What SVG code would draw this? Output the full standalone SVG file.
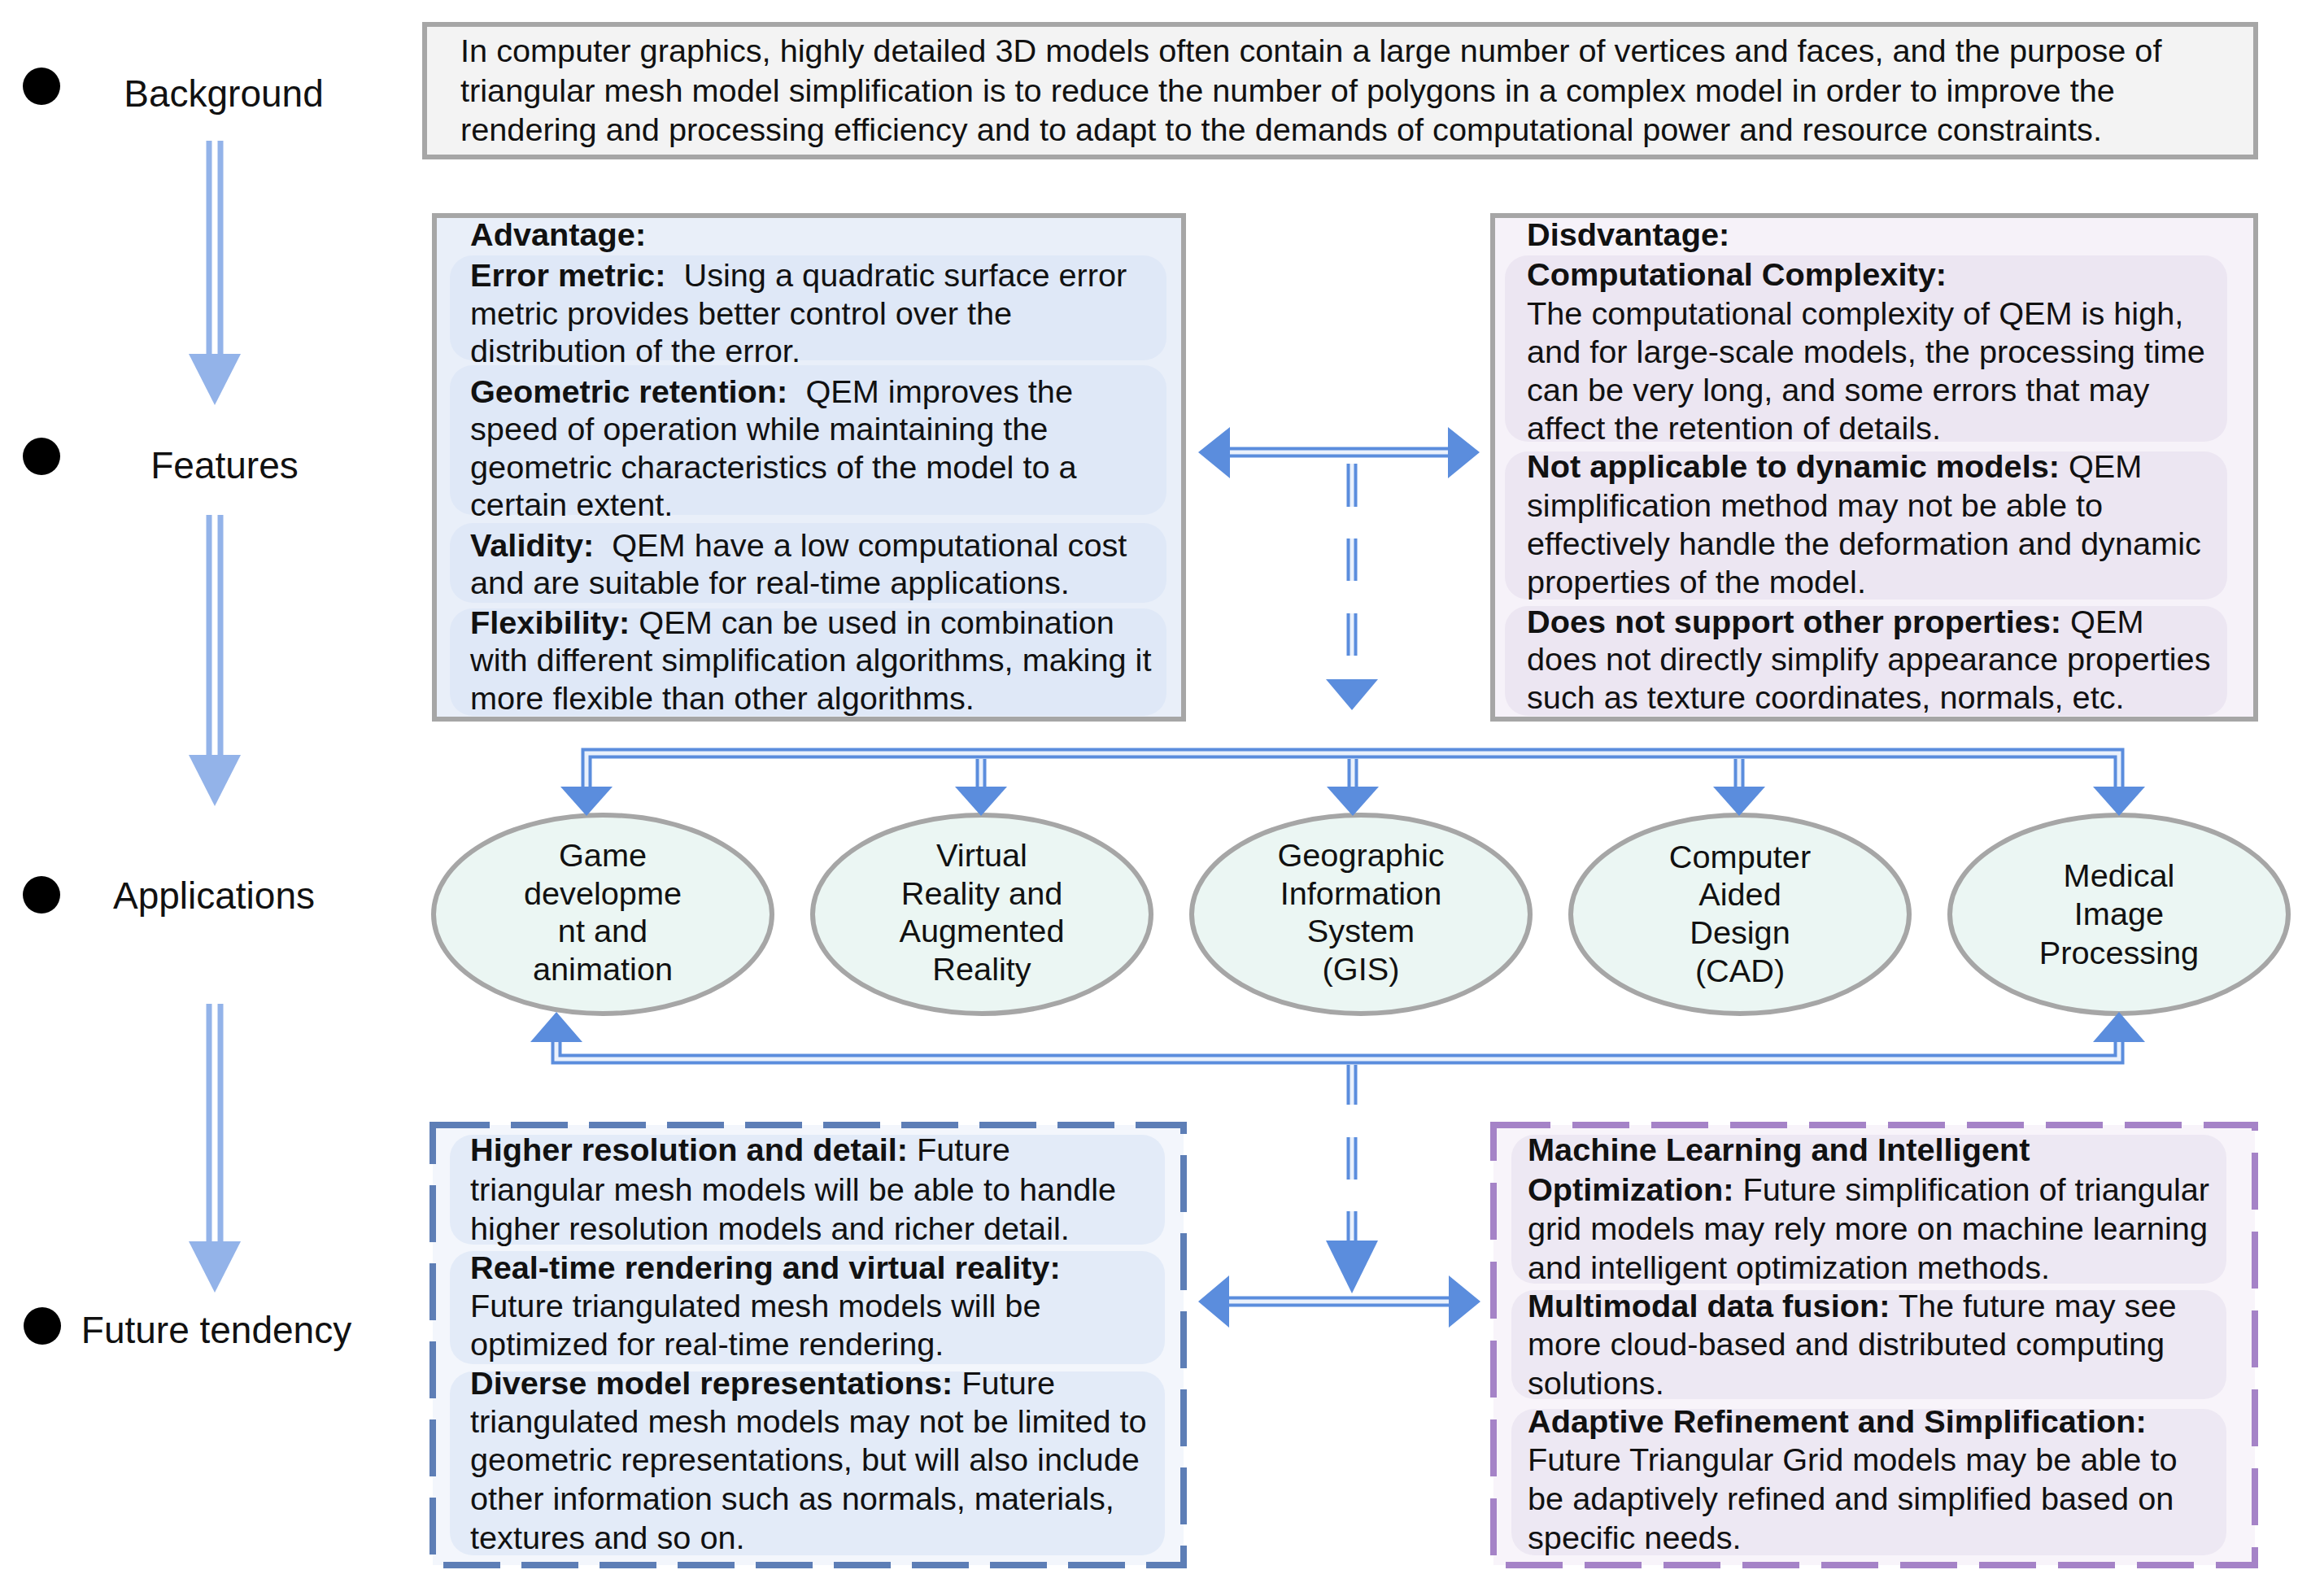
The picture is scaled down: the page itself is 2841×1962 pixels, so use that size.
<svg xmlns="http://www.w3.org/2000/svg" width="2841" height="1962" viewBox="0 0 2841 1962">
<style>
.t{font-family:"Liberation Sans",Arial,Helvetica,sans-serif;font-size:39.7px;fill:#111}
.b{font-weight:bold}
.lbl{font-family:"Liberation Sans",Arial,Helvetica,sans-serif;font-size:46px;fill:#111;text-anchor:middle}
.ec{text-anchor:middle}
.box{stroke:#a6a6a6;stroke-width:6}
.ell{fill:#ebf6f3;stroke:#a6a6a6;stroke-width:6}
.itA{fill:#dfe8f7}
.itD{fill:#ece6f2}
.itL{fill:#e3ebf8}
.itR{fill:#ede8f3}
.co{stroke:#5b8ddd;fill:none;stroke-width:13}
.ci{stroke:#eaf1fc;fill:none;stroke-width:5}
.ah{fill:#5b8ddd}
.to{stroke:#93b3e9;fill:none;stroke-width:21}
.ti{stroke:#ffffff;fill:none;stroke-width:7}
.th{fill:#93b3e9}
.dot{fill:#000}
</style>

<!-- Timeline -->
<g id="timeline">
  <circle class="dot" cx="51" cy="106" r="23"/>
  <circle class="dot" cx="51" cy="561" r="23"/>
  <circle class="dot" cx="51" cy="1100" r="23"/>
  <circle class="dot" cx="52" cy="1630" r="23"/>
  <path class="to" d="M264,173 V437 M264,633 V930 M264,1234 V1528"/>
  <path class="ti" d="M264,173 V437 M264,633 V930 M264,1234 V1528"/>
  <polygon class="th" points="232,435 296,435 264,498"/>
  <polygon class="th" points="232,928 296,928 264,991"/>
  <polygon class="th" points="232,1526 296,1526 264,1589"/>
</g>
<g id="label-background"><text class="lbl" x="275" y="131">Background</text></g>
<g id="label-features"><text class="lbl" x="276" y="588">Features</text></g>
<g id="label-applications"><text class="lbl" x="263" y="1117">Applications</text></g>
<g id="label-future"><text class="lbl" x="266" y="1651">Future tendency</text></g>

<!-- Background node -->
<g id="node-background">
  <rect class="box" x="522" y="30" width="2251" height="163" fill="#f3f3f3"/>
  <text class="t" x="566" y="76">In computer graphics, highly detailed 3D models often contain a large number of vertices and faces, and the purpose of</text>
  <text class="t" x="566" y="125">triangular mesh model simplification is to reduce the number of polygons in a complex model in order to improve the</text>
  <text class="t" x="566" y="173">rendering and processing efficiency and to adapt to the demands of computational power and resource constraints.</text>
</g>

<!-- Advantage node -->
<g id="node-advantage">
  <rect class="box" x="534" y="265" width="921" height="619" fill="#e9eff9"/>
  <rect class="itA" x="553" y="314" width="881" height="129" rx="28"/>
  <rect class="itA" x="553" y="449" width="881" height="184" rx="28"/>
  <rect class="itA" x="553" y="643" width="881" height="98" rx="28"/>
  <rect class="itA" x="553" y="748" width="881" height="132" rx="28"/>
  <text class="t b" x="578" y="302">Advantage:</text>
  <text class="t" x="578" y="352" xml:space="preserve"><tspan class="b">Error metric:</tspan>  Using a quadratic surface error</text>
  <text class="t" x="578" y="399">metric provides better control over the</text>
  <text class="t" x="578" y="445">distribution of the error.</text>
  <text class="t" x="578" y="495" xml:space="preserve"><tspan class="b">Geometric retention:</tspan>  QEM improves the</text>
  <text class="t" x="578" y="541">speed of operation while maintaining the</text>
  <text class="t" x="578" y="588">geometric characteristics of the model to a</text>
  <text class="t" x="578" y="634">certain extent.</text>
  <text class="t" x="578" y="684" xml:space="preserve"><tspan class="b">Validity:</tspan>  QEM have a low computational cost</text>
  <text class="t" x="578" y="730">and are suitable for real-time applications.</text>
  <text class="t" x="578" y="779" xml:space="preserve"><tspan class="b">Flexibility:</tspan> QEM can be used in combination</text>
  <text class="t" x="578" y="825">with different simplification algorithms, making it</text>
  <text class="t" x="578" y="872">more flexible than other algorithms.</text>
</g>

<!-- Disadvantage node -->
<g id="node-disadvantage">
  <rect class="box" x="1835" y="265" width="938" height="619" fill="#f6f2f9"/>
  <rect class="itD" x="1850" y="314" width="888" height="229" rx="28"/>
  <rect class="itD" x="1850" y="555" width="888" height="182" rx="28"/>
  <rect class="itD" x="1850" y="745" width="888" height="135" rx="28"/>
  <text class="t b" x="1877" y="302">Disdvantage:</text>
  <text class="t b" x="1877" y="351">Computational Complexity:</text>
  <text class="t" x="1877" y="399">The computational complexity of QEM is high,</text>
  <text class="t" x="1877" y="446">and for large-scale models, the processing time</text>
  <text class="t" x="1877" y="493">can be very long, and some errors that may</text>
  <text class="t" x="1877" y="540">affect the retention of details.</text>
  <text class="t" x="1877" y="587" xml:space="preserve"><tspan class="b">Not applicable to dynamic models:</tspan> QEM</text>
  <text class="t" x="1877" y="635">simplification method may not be able to</text>
  <text class="t" x="1877" y="682">effectively handle the deformation and dynamic</text>
  <text class="t" x="1877" y="729">properties of the model.</text>
  <text class="t" x="1877" y="778" xml:space="preserve"><tspan class="b">Does not support other properties:</tspan> QEM</text>
  <text class="t" x="1877" y="824">does not directly simplify appearance properties</text>
  <text class="t" x="1877" y="871">such as texture coordinates, normals, etc.</text>
</g>

<!-- Application nodes -->
<g id="node-game">
  <ellipse class="ell" cx="741" cy="1124" rx="208" ry="122"/>
  <text class="t ec" x="741" y="1065">Game</text>
  <text class="t ec" x="741" y="1112">developme</text>
  <text class="t ec" x="741" y="1158">nt and</text>
  <text class="t ec" x="741" y="1205">animation</text>
</g>
<g id="node-vr">
  <ellipse class="ell" cx="1207" cy="1124" rx="208" ry="122"/>
  <text class="t ec" x="1207" y="1065">Virtual</text>
  <text class="t ec" x="1207" y="1112">Reality and</text>
  <text class="t ec" x="1207" y="1158">Augmented</text>
  <text class="t ec" x="1207" y="1205">Reality</text>
</g>
<g id="node-gis">
  <ellipse class="ell" cx="1673" cy="1124" rx="208" ry="122"/>
  <text class="t ec" x="1673" y="1065">Geographic</text>
  <text class="t ec" x="1673" y="1112">Information</text>
  <text class="t ec" x="1673" y="1158">System</text>
  <text class="t ec" x="1673" y="1205">(GIS)</text>
</g>
<g id="node-cad">
  <ellipse class="ell" cx="2139" cy="1124" rx="208" ry="122"/>
  <text class="t ec" x="2139" y="1067">Computer</text>
  <text class="t ec" x="2139" y="1113">Aided</text>
  <text class="t ec" x="2139" y="1160">Design</text>
  <text class="t ec" x="2139" y="1207">(CAD)</text>
</g>
<g id="node-medical">
  <ellipse class="ell" cx="2605" cy="1124" rx="208" ry="122"/>
  <text class="t ec" x="2605" y="1090">Medical</text>
  <text class="t ec" x="2605" y="1137">Image</text>
  <text class="t ec" x="2605" y="1185">Processing</text>
</g>

<!-- Future left node -->
<g id="node-future-left">
  <rect x="532" y="1383" width="923" height="541" fill="#f3f6fc" stroke="#5d7eb6" stroke-width="8" stroke-dasharray="70 26"/>
  <rect class="itL" x="553" y="1395" width="879" height="135" rx="28"/>
  <rect class="itL" x="553" y="1538" width="879" height="139" rx="28"/>
  <rect class="itL" x="553" y="1686" width="879" height="226" rx="28"/>
  <text class="t" x="578" y="1427" xml:space="preserve"><tspan class="b">Higher resolution and detail:</tspan> Future</text>
  <text class="t" x="578" y="1476">triangular mesh models will be able to handle</text>
  <text class="t" x="578" y="1524">higher resolution models and richer detail.</text>
  <text class="t b" x="578" y="1572">Real-time rendering and virtual reality:</text>
  <text class="t" x="578" y="1619">Future triangulated mesh models will be</text>
  <text class="t" x="578" y="1666">optimized for real-time rendering.</text>
  <text class="t" x="578" y="1714" xml:space="preserve"><tspan class="b">Diverse model representations:</tspan> Future</text>
  <text class="t" x="578" y="1761">triangulated mesh models may not be limited to</text>
  <text class="t" x="578" y="1808">geometric representations, but will also include</text>
  <text class="t" x="578" y="1856">other information such as normals, materials,</text>
  <text class="t" x="578" y="1904">textures and so on.</text>
</g>

<!-- Future right node -->
<g id="node-future-right">
  <rect x="1836" y="1383" width="936" height="541" fill="#f8f4fa" stroke="#a583c7" stroke-width="8" stroke-dasharray="70 27"/>
  <rect class="itR" x="1858" y="1395" width="879" height="183" rx="28"/>
  <rect class="itR" x="1858" y="1586" width="879" height="134" rx="28"/>
  <rect class="itR" x="1858" y="1732" width="879" height="180" rx="28"/>
  <text class="t b" x="1878" y="1427">Machine Learning and Intelligent</text>
  <text class="t" x="1878" y="1476" xml:space="preserve"><tspan class="b">Optimization:</tspan> Future simplification of triangular</text>
  <text class="t" x="1878" y="1524">grid models may rely more on machine learning</text>
  <text class="t" x="1878" y="1572">and intelligent optimization methods.</text>
  <text class="t" x="1878" y="1619" xml:space="preserve"><tspan class="b">Multimodal data fusion:</tspan> The future may see</text>
  <text class="t" x="1878" y="1666">more cloud-based and distributed computing</text>
  <text class="t" x="1878" y="1714">solutions.</text>
  <text class="t b" x="1878" y="1761">Adaptive Refinement and Simplification:</text>
  <text class="t" x="1878" y="1808">Future Triangular Grid models may be able to</text>
  <text class="t" x="1878" y="1856">be adaptively refined and simplified based on</text>
  <text class="t" x="1878" y="1904">specific needs.</text>
</g>

<!-- Connectors -->
<g id="connectors">
  <!-- features double arrow -->
  <path class="co" d="M1508,556 H1784"/>
  <path class="ci" d="M1508,556 H1784"/>
  <polygon class="ah" points="1473,556 1512,525 1512,588"/>
  <polygon class="ah" points="1819,556 1780,525 1780,588"/>
  <!-- dashed down from features -->
  <path class="co" d="M1662,570 V623 M1662,662 V714 M1662,754 V806"/>
  <path class="ci" d="M1662,570 V623 M1662,662 V714 M1662,754 V806"/>
  <polygon class="ah" points="1630,835 1694,835 1662,873"/>
  <!-- top bus -->
  <path class="co" d="M721,970 V926 H2605 V970"/>
  <path class="ci" d="M721,970 V926 H2605 V970"/>
  <path class="co" d="M1206,933 V970 M1663,933 V970 M2138,933 V970"/>
  <path class="ci" d="M1206,933 V970 M1663,933 V970 M2138,933 V970"/>
  <polygon class="ah" points="689,967 753,967 721,1003"/>
  <polygon class="ah" points="1174,967 1238,967 1206,1003"/>
  <polygon class="ah" points="1631,967 1695,967 1663,1003"/>
  <polygon class="ah" points="2106,967 2170,967 2138,1003"/>
  <polygon class="ah" points="2573,967 2637,967 2605,1003"/>
  <!-- bottom bus -->
  <path class="co" d="M684,1278 V1302 H2605 V1278"/>
  <path class="ci" d="M684,1278 V1302 H2605 V1278"/>
  <polygon class="ah" points="652,1281 716,1281 684,1244"/>
  <polygon class="ah" points="2573,1281 2637,1281 2605,1244"/>
  <!-- dashed down to future -->
  <path class="co" d="M1662,1309 V1358 M1662,1398 V1450 M1662,1489 V1528"/>
  <path class="ci" d="M1662,1309 V1358 M1662,1398 V1450 M1662,1489 V1528"/>
  <polygon class="ah" points="1630,1525 1694,1525 1662,1590"/>
  <!-- future double arrow -->
  <path class="co" d="M1508,1600 H1785"/>
  <path class="ci" d="M1508,1600 H1785"/>
  <polygon class="ah" points="1473,1600 1511,1568 1511,1632"/>
  <polygon class="ah" points="1820,1600 1781,1568 1781,1632"/>
</g>
</svg>
